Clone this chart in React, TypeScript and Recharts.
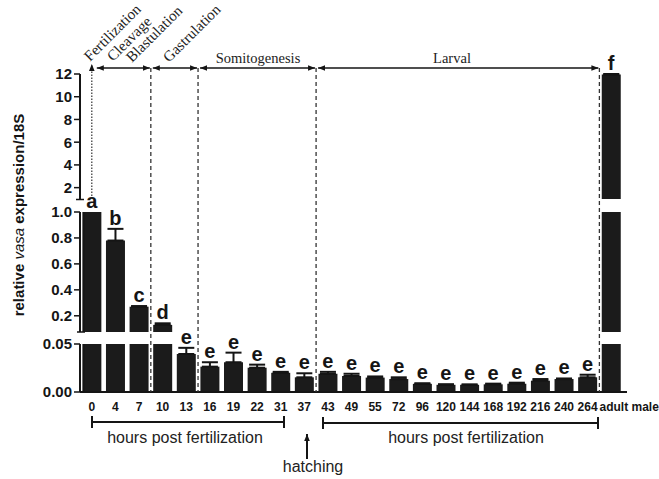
import React from 'react';
import { ComposedChart, Bar, Line, XAxis, YAxis, ErrorBar, LabelList } from 'recharts';

// hours post fertilization (plus the adult male reference)
const hours = ['0', '4', '7', '10', '13', '16', '19', '22', '31', '37', '43', '49', '55', '72', '96', '120', '144', '168', '192', '216', '240', '264', 'adult male'];
// relative vasa expression / 18S
const expression = [1.0, 0.78, 0.27, 0.13, 0.0396, 0.0264, 0.031, 0.0253, 0.02, 0.0153, 0.019, 0.0167, 0.015, 0.0135, 0.0085, 0.0075, 0.0075, 0.008, 0.0087, 0.0118, 0.0135, 0.0153, 11.95];
const sem = [0, 0.09, 0.005, 0.012, 0.0064, 0.0046, 0.01, 0.0032, 0.001, 0.0042, 0.002, 0.0023, 0.0012, 0.0018, 0.0006, 0.0006, 0.0004, 0.0007, 0.001, 0.0017, 0.0006, 0.0027, 0.05];
const letters = ['a', 'b', 'c', 'd', 'e', 'e', 'e', 'e', 'e', 'e', 'e', 'e', 'e', 'e', 'e', 'e', 'e', 'e', 'e', 'e', 'e', 'e', 'f'];

const topTicks = [2, 4, 6, 8, 10, 12];
const midTicks = [0.2, 0.4, 0.6, 0.8, 1.0];
const botTicks = [0, 0.05];

const SANS = '"Liberation Sans", Arial, sans-serif';
const SERIF = '"Liberation Serif", "Times New Roman", serif';
const INK = '#151515';
const PAD = 28;

// the broken y axis: three stacked panels sharing the category axis
const segments = [
  { key: 'top', domain: [1, 12], ticks: topTicks, fmt: (v) => String(v), top: 74, height: 125 },
  { key: 'mid', domain: [0.075, 1], ticks: midTicks, fmt: (v) => v.toFixed(1), top: 212, height: 120 },
  { key: 'bot', domain: [0, 0.05], ticks: botTicks, fmt: (v) => v.toFixed(2), top: 344, height: 48 },
];

const inSeg = (v, s) => v > s.domain[0] && v <= s.domain[1] + 1e-9;

const rows = hours.map((h, i) => {
  const tip = expression[i] + sem[i];
  const row = { hour: h, value: expression[i], tip };
  segments.forEach((s) => {
    // only whiskers / letters whose tip falls inside the panel are drawn there
    row['err_' + s.key] = inSeg(tip, s) && sem[i] > 0 ? [0, sem[i]] : null;
    row['lbl_' + s.key] = inSeg(tip, s) ? letters[i] : null;
  });
  return row;
});

const PLOT_LEFT = 80;
const PLOT_RIGHT = 623;
const BAND = (PLOT_RIGHT - PLOT_LEFT) / hours.length;
const bandStart = (i) => PLOT_LEFT + i * BAND;
const bandMid = (i) => PLOT_LEFT + (i + 0.5) * BAND;

const HourTick = ({ x, y, payload }) => {
  const last = payload.value === 'adult male';
  return (
    <text x={last ? x + 18 : x} y={y} dy="0.71em" textAnchor="middle" fontSize={12} fontWeight="bold" fontFamily={SANS} fill={INK}>
      {payload.value}
    </text>
  );
};

function Panel({ seg }) {
  const isBot = seg.key === 'bot';
  return (
    <div style={{ position: 'absolute', left: 0, top: seg.top - PAD, width: 659 }}>
      <ComposedChart
        width={659}
        height={seg.height + PAD + (isBot ? 30 : PAD)}
        data={rows}
        margin={{ top: PAD, right: 659 - PLOT_RIGHT, bottom: isBot ? 0 : PAD, left: 0 }}
      >
        <XAxis
          dataKey="hour"
          hide={!isBot}
          interval={0}
          height={30}
          tickLine={false}
          tickSize={6}
          tickMargin={4}
          axisLine={{ stroke: INK, strokeWidth: 2 }}
          tick={<HourTick />}
        />
        <YAxis
          type="number"
          width={PLOT_LEFT}
          domain={seg.domain}
          allowDataOverflow
          ticks={seg.ticks}
          tickFormatter={seg.fmt}
          tickSize={6}
          tickMargin={2}
          axisLine={{ stroke: INK, strokeWidth: 2 }}
          tickLine={{ stroke: INK, strokeWidth: 1.5 }}
          tick={{ fontSize: 15, fontWeight: 'bold', fill: INK, fontFamily: SANS }}
        />
        <Bar dataKey="value" fill="#1b1b1b" isAnimationActive={false}>
          <ErrorBar dataKey={'err_' + seg.key} direction="y" width={8} stroke={INK} strokeWidth={2} />
        </Bar>
        <Line
          dataKey="tip"
          stroke="none"
          dot={false}
          activeDot={false}
          legendType="none"
          isAnimationActive={false}
        >
          <LabelList dataKey={'lbl_' + seg.key} position="top" offset={4} fill={INK} fontSize={20} fontWeight="bold" fontFamily={SANS} />
        </Line>
      </ComposedChart>
    </div>
  );
}

function Overlay() {
  const dashX = [bandStart(3), bandStart(5), bandStart(10), bandStart(22)];
  const arrowY = 68;
  const spans = [
    [bandMid(0) + 5, dashX[0] - 1],
    [dashX[0] + 2, dashX[1] - 1],
    [dashX[1] + 2, dashX[2] - 1],
    [dashX[2] + 2, dashX[3] - 1],
  ];
  const diag = [
    { t: 'Fertilization', x: 90, y: 62 },
    { t: 'Cleavage', x: 113, y: 62 },
    { t: 'Blastulation', x: 132, y: 63 },
    { t: 'Gastrulation', x: 169, y: 63 },
  ];
  return (
    <svg width={659} height={479} style={{ position: 'absolute', left: 0, top: 0, pointerEvents: 'none' }}>
      <defs>
        <marker id="ah" viewBox="0 0 10 10" refX="10" refY="5" markerUnits="userSpaceOnUse" markerWidth="7" markerHeight="7" orient="auto-start-reverse">
          <path d="M0,1 L10,5 L0,9 z" fill={INK} />
        </marker>
      </defs>
      {dashX.map((x, i) => (
        <line key={i} x1={x} x2={x} y1={arrowY} y2={392} stroke="#333" strokeWidth={1.3} strokeDasharray="4 3" />
      ))}
      <line x1={bandMid(0)} x2={bandMid(0)} y1={199} y2={arrowY - 4} stroke="#333" strokeWidth={1.2} strokeDasharray="1.5 1.5" markerEnd="url(#ah)" />
      {spans.map(([a, b], i) => (
        <line key={i} x1={a} x2={b} y1={arrowY} y2={arrowY} stroke={INK} strokeWidth={1.5} markerStart="url(#ah)" markerEnd="url(#ah)" />
      ))}
      {diag.map((d) => (
        <text key={d.t} x={d.x} y={d.y} transform={`rotate(-45 ${d.x} ${d.y})`} fontFamily={SERIF} fontSize={15} fill="#222">
          {d.t}
        </text>
      ))}
      <text x={258} y={63} textAnchor="middle" fontFamily={SERIF} fontSize={14.5} fill="#222">Somitogenesis</text>
      <text x={452} y={63} textAnchor="middle" fontFamily={SERIF} fontSize={14.5} fill="#222">Larval</text>

      {/* axis break marks */}
      <g stroke={INK}>
        <line x1={76} x2={84} y1={199.5} y2={199.5} strokeWidth={1.5} />
        <line x1={77} x2={85} y1={332} y2={332} strokeWidth={1.5} />
        <line x1={83.8} x2={83.8} y1={212} y2={332} strokeWidth={1.3} />
        <line x1={83.8} x2={83.8} y1={344} y2={392} strokeWidth={1.3} />
        <line x1={PLOT_RIGHT} x2={627} y1={392} y2={392} strokeWidth={2} />
      </g>

      <text x={24} y={215} transform="rotate(-90 24 215)" textAnchor="middle" fontFamily={SANS} fontSize={15} fontWeight="bold" fill={INK}>
        relative <tspan fontStyle="italic" fontWeight="normal">vasa</tspan> expression/18S
      </text>

      <g stroke={INK} strokeWidth={2}>
        <line x1={92} x2={284} y1={422} y2={422} />
        <line x1={92} x2={92} y1={416} y2={428} />
        <line x1={284} x2={284} y1={416} y2={428} />
        <line x1={323} x2={598} y1={423} y2={423} />
        <line x1={323} x2={323} y1={417} y2={429} />
        <line x1={598} x2={598} y1={417} y2={429} />
      </g>
      <text x={185} y={443} textAnchor="middle" fontFamily={SANS} fontSize={16} fill="#222">hours post fertilization</text>
      <text x={466} y={443} textAnchor="middle" fontFamily={SANS} fontSize={16} fill="#222">hours post fertilization</text>
      <line x1={307} x2={307} y1={459} y2={434} stroke={INK} strokeWidth={2} markerEnd="url(#ah)" />
      <text x={313} y={472} textAnchor="middle" fontFamily={SANS} fontSize={16} fill="#222">hatching</text>
    </svg>
  );
}

export default function App() {
  return (
    <div style={{ position: 'absolute', left: 0, top: 0, width: 659, height: 479, background: '#fff', overflow: 'hidden' }}>
      {segments.map((s) => (
        <Panel key={s.key} seg={s} />
      ))}
      <Overlay />
    </div>
  );
}
